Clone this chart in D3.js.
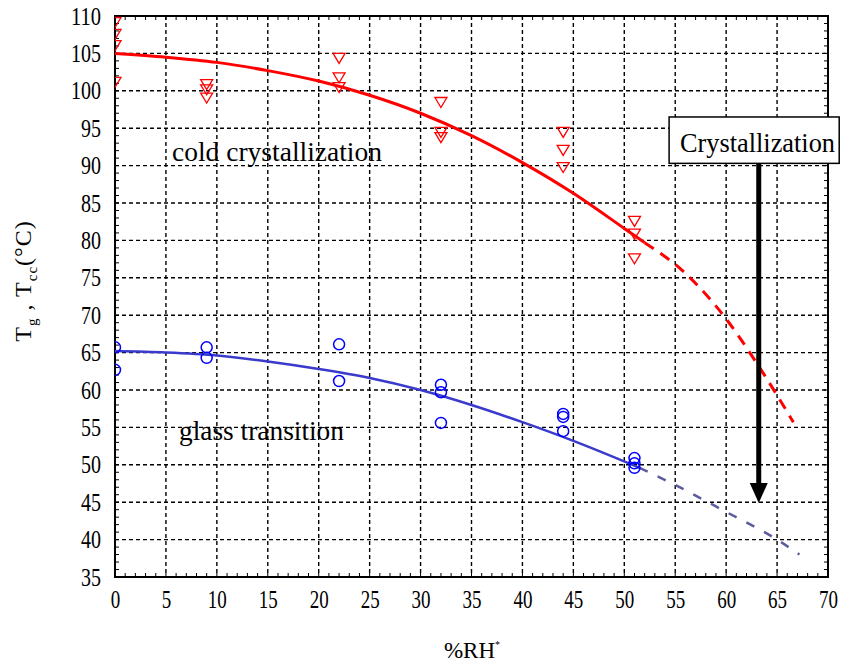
<!DOCTYPE html>
<html>
<head>
<meta charset="utf-8">
<script src="https://cdn.jsdelivr.net/npm/d3@7"></script>
<style>
  body { margin: 0; background: #fff; }
  svg { display: block; }
  text { font-family: "Liberation Serif", "Times New Roman", serif; fill: #000; }
</style>
</head>
<body>
<svg id="chart" width="843" height="666"></svg>
<script>
// tick labels
const xTickValues = [0, 5, 10, 15, 20, 25, 30, 35, 40, 45, 50, 55, 60, 65, 70];
const yTickValues = [35, 40, 45, 50, 55, 60, 65, 70, 75, 80, 85, 90, 95, 100, 105, 110];

// cold crystallization measurements (open down-triangles)
const coldRH = [0, 0, 0, 0, 9, 9, 9, 22, 22, 22, 32, 32, 32, 44, 44, 44, 51, 51, 51];
const coldT = [109.2, 107.6, 106.1, 101.2, 100.9, 100.2, 99.1, 104.4, 101.8, 100.5, 98.5, 94.5, 93.8, 94.5, 92.1, 89.8, 82.6, 80.9, 77.6];

// glass transition measurements (open circles)
const glassRH = [0, 0, 9, 9, 22, 22, 32, 32, 32, 44, 44, 44, 51, 51, 51];
const glassT = [65.7, 62.7, 65.7, 64.3, 66.1, 61.2, 60.7, 59.7, 55.6, 56.8, 56.4, 54.5, 50.9, 50.2, 49.6];

// fitted curves
const coldFitRH = [0, 5, 10, 15, 20, 25, 30, 35, 40, 45, 50, 52];
const coldFitT = [105, 104.5, 103.8, 102.7, 101.3, 99.4, 97.0, 94.0, 90.4, 86.3, 81.6, 79.7];
const coldExtRH = [52, 56, 60, 63, 65, 66.6];
const coldExtT = [79.7, 75.6, 69.5, 63.6, 59.3, 55.7];

const glassFitRH = [0, 5, 10, 15, 20, 25, 30, 35, 40, 45, 51.5];
const glassFitT = [65.2, 65.0, 64.6, 63.8, 62.8, 61.6, 60.0, 58.0, 55.7, 53.2, 49.6];
const glassExtRH = [51.5, 55, 60, 65, 67.2];
const glassExtT = [49.6, 47.3, 43.7, 40.0, 38.0];

// annotation: box + arrow
const boxRH = [54.4, 71.1];
const boxT = [96.5, 90.3];
const arrowRH = 63.2;
const arrowT = [90.3, 44.9];

const svg = d3.select('#chart');

const x = d3.scaleLinear().domain([0, 70]).range([115, 828]);
const y = d3.scaleLinear().domain([35, 110]).range([577, 16]);

svg.append('defs').append('clipPath').attr('id', 'plotClip')
  .append('rect')
  .attr('x', x(0)).attr('y', y(110))
  .attr('width', x(70) - x(0)).attr('height', y(35) - y(110));

// gridlines
const grid = svg.append('g').attr('class', 'grid');
grid.selectAll('.hgrid')
  .data(yTickValues.filter((d) => d > 35 && d < 110))
  .enter().append('line')
  .attr('x1', x(0)).attr('x2', x(70))
  .attr('y1', (d) => y(d)).attr('y2', (d) => y(d))
  .attr('stroke', '#000').attr('stroke-width', 1.4).attr('stroke-dasharray', '4,3');
grid.selectAll('.vgrid')
  .data(xTickValues.filter((d) => d > 0 && d < 70))
  .enter().append('line')
  .attr('y1', y(110)).attr('y2', y(35))
  .attr('x1', (d) => x(d)).attr('x2', (d) => x(d))
  .attr('stroke', '#000').attr('stroke-width', 1.4).attr('stroke-dasharray', '4,3');

// minor ticks, inward on all four sides
const minorX = d3.range(1, 70);
const minorY = d3.range(36, 110);
const ticks = svg.append('g').attr('stroke', '#000').attr('stroke-width', 1);
ticks.selectAll('.mb').data(minorX).enter().append('line')
  .attr('x1', (d) => x(d)).attr('x2', (d) => x(d))
  .attr('y1', y(35)).attr('y2', y(35) - 4);
ticks.selectAll('.mt').data(minorX).enter().append('line')
  .attr('x1', (d) => x(d)).attr('x2', (d) => x(d))
  .attr('y1', y(110)).attr('y2', y(110) + 4);
ticks.selectAll('.ml').data(minorY).enter().append('line')
  .attr('y1', (d) => y(d)).attr('y2', (d) => y(d))
  .attr('x1', x(0)).attr('x2', x(0) + 4);
ticks.selectAll('.mr').data(minorY).enter().append('line')
  .attr('y1', (d) => y(d)).attr('y2', (d) => y(d))
  .attr('x1', x(70)).attr('x2', x(70) - 4);

// tick labels
const xAxis = d3.axisBottom(x).tickValues(xTickValues).tickSize(0).tickPadding(13);
svg.append('g')
  .attr('transform', `translate(0, ${y(35)})`)
  .call(xAxis)
  .call((g) => g.select('.domain').remove())
  .selectAll('text')
  .attr('font-family', '"Liberation Serif", serif')
  .attr('font-size', 25)
  .attr('textLength', (d) => String(d).length * 9.5)
  .attr('lengthAdjust', 'spacingAndGlyphs');

const yAxis = d3.axisLeft(y).tickValues(yTickValues).tickSize(0).tickPadding(14);
svg.append('g')
  .attr('transform', `translate(${x(0)}, 0)`)
  .call(yAxis)
  .call((g) => g.select('.domain').remove())
  .selectAll('text')
  .attr('font-family', '"Liberation Serif", serif')
  .attr('font-size', 25)
  .attr('textLength', (d) => String(d).length * 10)
  .attr('lengthAdjust', 'spacingAndGlyphs');

// plot border
svg.append('rect')
  .attr('x', x(0)).attr('y', y(110))
  .attr('width', x(70) - x(0)).attr('height', y(35) - y(110))
  .attr('fill', 'none').attr('stroke', '#000').attr('stroke-width', 2);

const plot = svg.append('g').attr('clip-path', 'url(#plotClip)');

const line = d3.line()
  .curve(d3.curveMonotoneX)
  .x((d) => x(d[0]))
  .y((d) => y(d[1]));

const zip = (a, b) => a.map((v, i) => [v, b[i]]);

plot.append('path').datum(zip(coldFitRH, coldFitT))
  .attr('d', line).attr('fill', 'none')
  .attr('stroke', '#ff0000').attr('stroke-width', 3);
plot.append('path').datum(zip(coldExtRH, coldExtT))
  .attr('d', line).attr('fill', 'none')
  .attr('stroke', '#ff0000').attr('stroke-width', 3)
  .attr('stroke-dasharray', '11,8');

plot.append('path').datum(zip(glassFitRH, glassFitT))
  .attr('d', line).attr('fill', 'none')
  .attr('stroke', '#3a3acc').attr('stroke-width', 2.5);
plot.append('path').datum(zip(glassExtRH, glassExtT))
  .attr('d', line).attr('fill', 'none')
  .attr('stroke', '#5c5c9c').attr('stroke-width', 2.5)
  .attr('stroke-dasharray', '9,11');

// markers
plot.selectAll('.tri')
  .data(zip(coldRH, coldT))
  .enter().append('path')
  .attr('d', 'M-6,-4.5L6,-4.5L0,5.5Z')
  .attr('transform', (d) => `translate(${x(d[0])}, ${y(d[1])})`)
  .attr('fill', 'none').attr('stroke', '#ff0000').attr('stroke-width', 1.3);

plot.selectAll('.circ')
  .data(zip(glassRH, glassT))
  .enter().append('circle')
  .attr('cx', (d) => x(d[0])).attr('cy', (d) => y(d[1]))
  .attr('r', 5.5)
  .attr('fill', 'none').attr('stroke', '#0000ff').attr('stroke-width', 1.5);

// labels inside the plot
svg.append('text')
  .attr('x', 172).attr('y', 161)
  .attr('font-size', 27)
  .attr('textLength', 210).attr('lengthAdjust', 'spacingAndGlyphs')
  .text('cold crystallization');

svg.append('text')
  .attr('x', 179).attr('y', 440)
  .attr('font-size', 27)
  .attr('textLength', 165).attr('lengthAdjust', 'spacingAndGlyphs')
  .text('glass transition');

// arrow
svg.append('line')
  .attr('x1', x(arrowRH)).attr('x2', x(arrowRH))
  .attr('y1', y(arrowT[0])).attr('y2', y(arrowT[1]) - 15)
  .attr('stroke', '#000').attr('stroke-width', 5);
svg.append('path')
  .attr('d', `M${x(arrowRH) - 9},${y(arrowT[1]) - 20}L${x(arrowRH) + 9},${y(arrowT[1]) - 20}L${x(arrowRH)},${y(arrowT[1])}Z`)
  .attr('fill', '#000');

// annotation box
svg.append('rect')
  .attr('x', x(boxRH[0])).attr('y', y(boxT[0]))
  .attr('width', x(boxRH[1]) - x(boxRH[0])).attr('height', y(boxT[1]) - y(boxT[0]))
  .attr('fill', '#fff').attr('stroke', '#000').attr('stroke-width', 1.5);
svg.append('text')
  .attr('x', 680).attr('y', 152)
  .attr('font-size', 28)
  .attr('textLength', 155).attr('lengthAdjust', 'spacingAndGlyphs')
  .text('Crystallization');

// axis titles
const xt = svg.append('text')
  .attr('x', 472).attr('y', 658)
  .attr('text-anchor', 'middle')
  .attr('font-size', 23);
xt.append('tspan').text('%RH');
xt.append('tspan').attr('dy', -10).attr('font-size', 10).text('*');

const yt = svg.append('text')
  .attr('transform', 'translate(31, 281) rotate(-90)')
  .attr('text-anchor', 'middle')
  .attr('font-size', 24)
  .attr('letter-spacing', 1);
yt.append('tspan').text('T');
yt.append('tspan').attr('dy', 6).attr('font-size', 15).text('g');
yt.append('tspan').attr('dy', -6).text(' , T');
yt.append('tspan').attr('dy', 6).attr('font-size', 15).text('cc');
yt.append('tspan').attr('dy', -6).text('(°C)');
</script>
</body>
</html>
